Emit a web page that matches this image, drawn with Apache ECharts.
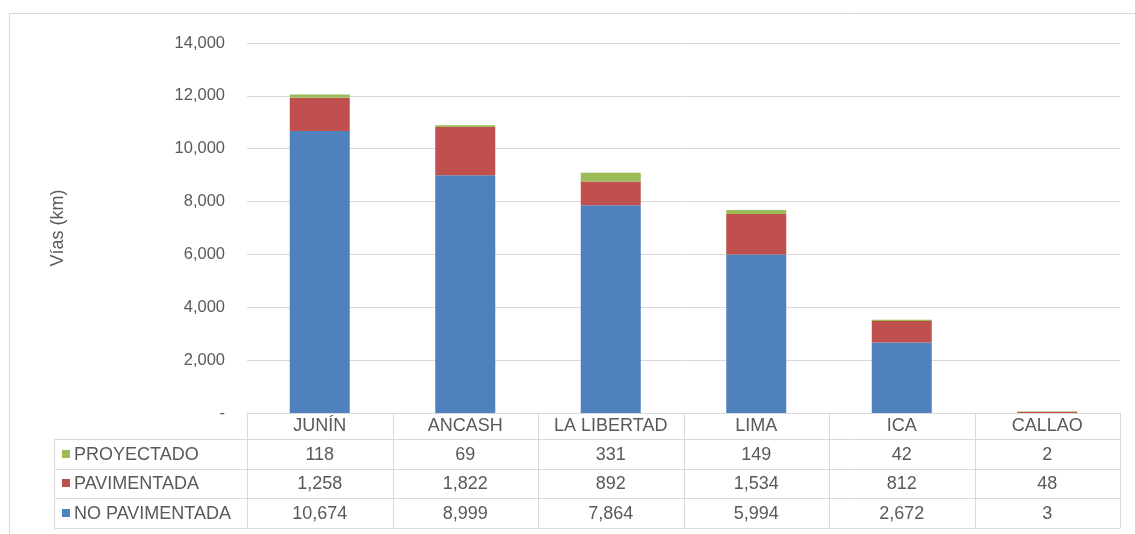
<!DOCTYPE html>
<html><head><meta charset="utf-8">
<script src="https://cdn.jsdelivr.net/npm/echarts@6/dist/echarts.min.js"></script>
<style>html,body{margin:0;padding:0;background:#fff}#c{width:1135px;height:534px}</style>
</head><body><div id="c"></div>
<script>
var categories = ['JUNÍN','ANCASH','LA LIBERTAD','LIMA','ICA','CALLAO'];
var noPavimentada = [10674, 8999, 7864, 5994, 2672, 3];
var pavimentada = [1258, 1822, 892, 1534, 812, 48];
var proyectado = [118, 69, 331, 149, 42, 2];
var seriesNames = ['NO PAVIMENTADA','PAVIMENTADA','PROYECTADO'];
var seriesColors = ['#4F81BD','#C0504D','#9BBB59'];
var yTicks = [0, 2000, 4000, 6000, 8000, 10000, 12000, 14000];

var FONT = 'Liberation Sans, Arial, sans-serif';
var TXT = '#595959';
var LINE = '#D9D9D9';
var TFS = 18;
var chart = echarts.init(document.getElementById('c'), null, {renderer:'canvas'});
function fmt(v){ return v === 0 ? '-' : v.toLocaleString('en-US'); }
var data = [noPavimentada, pavimentada, proyectado];
var G = {left:247, right:15, top:43, bottom:121};
chart.setOption({
  animation:false,
  grid:{left:G.left, right:G.right, top:G.top, bottom:G.bottom, containLabel:false},
  xAxis:{type:'category', data:categories,
    axisLine:{show:true, lineStyle:{color:LINE, width:1}},
    axisTick:{show:false},
    axisLabel:{color:TXT, fontFamily:FONT, fontSize:TFS, margin:4, interval:0}},
  yAxis:{type:'value', min:yTicks[0], max:yTicks[yTicks.length-1], interval:2000,
    name:'Vías (km)', nameLocation:'middle', nameRotate:90, nameGap:180,
    nameTextStyle:{color:TXT, fontFamily:FONT, fontSize:18},
    axisLine:{show:false}, axisTick:{show:false},
    splitLine:{lineStyle:{color:LINE, width:1}},
    axisLabel:{color:TXT, fontFamily:FONT, fontSize:16.5, margin:22, formatter:fmt}},
  series: seriesNames.map(function(n,i){
    return {name:n, type:'bar', stack:'t', data:data[i], barWidth:60,
      itemStyle:{color:seriesColors[i]}};
  })
});

// data table
var colX = categories.map(function(c,i){ return chart.convertToPixel({xAxisIndex:0}, i); });
var half = (colX.length>1 ? (colX[1]-colX[0])/2 : 72);
var xL = colX[0]-half, xR = colX[colX.length-1]+half;
var tableLeft = 54, yHead = 413, rowH = 29.5, yRow0 = 439;
var rowOrder = [2,1,0];
var g = [];
function line(x1,y1,x2,y2){ g.push({type:'line', shape:{x1:x1,y1:y1,x2:x2,y2:y2}, style:{stroke:LINE, lineWidth:1}, silent:true}); }
line(xL, yHead+0.5, xR, yHead+0.5);
for (var r=0;r<=rowOrder.length;r++){
  var yy = Math.round(yRow0 + r*rowH)+0.5;
  line(tableLeft, yy, xR, yy);
}
var yBot = Math.round(yRow0 + rowOrder.length*rowH)+0.5;
line(tableLeft+0.5, yRow0, tableLeft+0.5, yBot);
for (var c=0;c<=categories.length;c++){
  var xx = Math.round(xL + c*2*half)+0.5;
  line(xx, yHead, xx, yBot);
}
rowOrder.forEach(function(si, r){
  var cy = yRow0 + r*rowH + rowH/2;
  g.push({type:'rect', shape:{x:62, y:Math.round(cy)-4, width:8, height:8}, style:{fill:seriesColors[si]}, silent:true});
  g.push({type:'text', x:74, y:cy+1, style:{text:seriesNames[si], fill:TXT, font:TFS+'px '+FONT, textVerticalAlign:'middle', verticalAlign:'middle', textAlign:'left', align:'left'}, silent:true});
  data[si].forEach(function(v, ci){
    g.push({type:'text', x:colX[ci], y:cy+1, style:{text:fmt(v), fill:TXT, font:TFS+'px '+FONT, textAlign:'center', align:'center', textVerticalAlign:'middle', verticalAlign:'middle'}, silent:true});
  });
});
g.push({type:'polyline', shape:{points:[[9.5,534],[9.5,13.5],[1135,13.5]]}, style:{stroke:LINE, lineWidth:1, fill:null}, silent:true});
chart.setOption({graphic:g});
</script></body></html>
